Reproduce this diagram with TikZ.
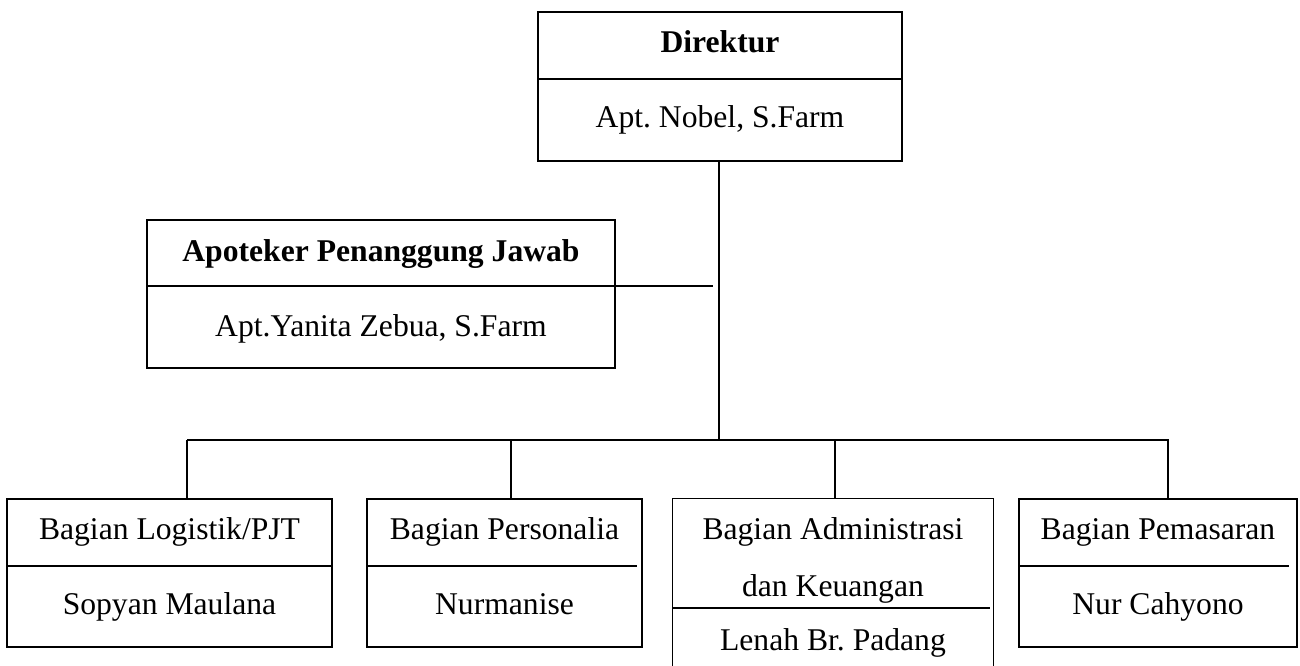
\documentclass[tikz,border=0pt]{standalone}
\usepackage{fontspec}
\setmainfont{Liberation Serif}
\usetikzlibrary{positioning,calc}
\frenchspacing
\newcommand{\px}{0.2mm}
\tikzset{
  unitbox/.style 2 args={draw,line width=0.9pt,minimum width=#1*\px,minimum height=#2*\px,inner sep=0pt},
  openbox/.style 2 args={minimum width=#1*\px,minimum height=#2*\px,inner sep=0pt},
  txt/.style={inner sep=0pt,text height=12pt,text depth=0pt,font=\fontsize{18}{22}\selectfont},
  divline/.style={line width=0.9pt},
  link/.style={line width=1.3pt}
}
\begin{document}
\begin{tikzpicture}[x=0.2mm,y=-0.2mm]
\useasboundingbox (0,0) rectangle (1300,666);

% boxes
\node[unitbox={364}{149}] (dir) at (720,86.5) {};
\node[unitbox={468}{148}] (apo) at (381,294) {};
\node[unitbox={325}{148}] (log) at (169.5,573) {};
\node[unitbox={275}{148}] (per) at (504.5,573) {};
\node[openbox={320}{167}] (adm) at (833,582.5) {};
\node[unitbox={278}{148}] (pem) at (1158,573) {};
\draw[divline] (adm.south west) |- (adm.north east) -- (adm.south east);

% texts
\node[txt] (dirT) at (720,42) {\textbf{Direktur}};
\node[txt] (dirN) at (720,117) {Apt. Nobel, S.Farm};
\node[txt] (apoT) at (381,251) {\textbf{Apoteker Penanggung Jawab}};
\node[txt] (apoN) at (381,326) {Apt.Yanita Zebua, S.Farm};
\node[txt] (logT) at (169.5,529) {Bagian Logistik/PJT};
\node[txt] (logN) at (169.5,604) {Sopyan Maulana};
\node[txt] (perT) at (504.5,529) {Bagian Personalia};
\node[txt] (perN) at (504.5,604) {Nurmanise};
\node[txt] (admT) at (833,529) {Bagian Administrasi};
\node[txt] (admU) at (833,586) {dan Keuangan};
\node[txt] (admN) at (833,640) {Lenah Br. Padang};
\node[txt] (pemT) at (1158,529) {Bagian Pemasaran};
\node[txt] (pemN) at (1158,604) {Nur Cahyono};

% dividers
\draw[divline] (dir.west |- 0,79) -- (dir.east |- 0,79);
\draw[divline] (log.west |- 0,566) -- (log.east |- 0,566);
\draw[divline] (per.west |- 0,566) -- (637,566);
\draw[divline] (adm.west |- 0,608) -- (990,608);
\draw[divline] (pem.west |- 0,566) -- (1289,566);

% connectors
\coordinate (hub) at (719,440);
\coordinate (b1) at (187,440);
\coordinate (b2) at (511,440);
\coordinate (b3) at (835,440);
\coordinate (b4) at (1168,440);
\coordinate (apoEnd) at (713,286);
\draw[link] (dir.south -| hub) -- (hub);
\draw[link] (b1) -- ([xshift=0.6pt]b4);
\draw[link] (b1) -- (b1 |- log.north);
\draw[link] (b2) -- (b2 |- per.north);
\draw[link] (b3) -- (b3 |- adm.north);
\draw[link] (b4) -- (b4 |- pem.north);
\draw[divline] (apo.west |- apoEnd) -- (apoEnd);
\end{tikzpicture}
\end{document}
